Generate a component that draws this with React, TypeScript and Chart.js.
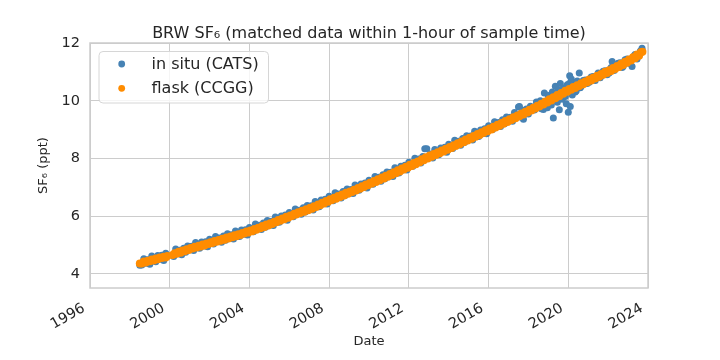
import React, { useEffect, useRef } from "react";
import { Chart, registerables } from "chart.js";

Chart.register(...registerables);

const titleText = "BRW SF₆ (matched data within 1-hour of sample time)";
const xAxisLabel = "Date";
const yAxisLabel = "SF₆ (ppt)";
const seriesNames = ["in situ (CATS)", "flask (CCGG)"];
const xTickYears = [1996, 2000, 2004, 2008, 2012, 2016, 2020, 2024];
const yTickValues = [4, 6, 8, 10, 12];

const flaskDates = [
  1998.5, 1998.6, 1998.7, 1998.8, 1998.9, 1999.0, 1999.1, 1999.2, 1999.3, 1999.4,
  1999.5, 1999.6, 1999.7, 1999.8, 1999.88,
  2000.15, 2000.25, 2000.35, 2000.45, 2000.55, 2000.65, 2000.75, 2000.85, 2000.95,
  2001.05, 2001.15, 2001.25, 2001.35, 2001.45, 2001.55, 2001.65, 2001.75, 2001.85, 2001.95,
  2002.05, 2002.15, 2002.25, 2002.35, 2002.45, 2002.55, 2002.65, 2002.75, 2002.85, 2002.95,
  2003.05, 2003.15, 2003.25, 2003.35, 2003.45, 2003.55, 2003.65, 2003.75, 2003.85, 2003.95,
  2004.05, 2004.15, 2004.25, 2004.35, 2004.45, 2004.55, 2004.65, 2004.75, 2004.85, 2004.95,
  2005.05, 2005.15, 2005.25, 2005.35, 2005.45, 2005.55, 2005.65, 2005.75, 2005.85, 2005.95,
  2006.05, 2006.15, 2006.25, 2006.35, 2006.45, 2006.55, 2006.65, 2006.75, 2006.85, 2006.95,
  2007.05, 2007.15, 2007.25, 2007.35, 2007.45, 2007.55, 2007.65, 2007.75, 2007.85, 2007.95,
  2008.05, 2008.15, 2008.25, 2008.35, 2008.45, 2008.55, 2008.65, 2008.75, 2008.85, 2008.95,
  2009.05, 2009.15, 2009.25, 2009.35, 2009.45, 2009.55, 2009.65, 2009.75, 2009.85, 2009.95,
  2010.05, 2010.15, 2010.25, 2010.35, 2010.45, 2010.55, 2010.65, 2010.75, 2010.85, 2010.95,
  2011.05, 2011.15, 2011.25, 2011.35, 2011.45, 2011.55, 2011.65, 2011.75, 2011.85, 2011.95,
  2012.05, 2012.15, 2012.25, 2012.35, 2012.45, 2012.55, 2012.65, 2012.75, 2012.85, 2012.95,
  2013.05, 2013.15, 2013.25, 2013.35, 2013.45, 2013.55, 2013.65, 2013.75, 2013.85, 2013.95,
  2014.05, 2014.15, 2014.25, 2014.35, 2014.45, 2014.55, 2014.65, 2014.75, 2014.85, 2014.95,
  2015.05, 2015.15, 2015.25, 2015.35, 2015.45, 2015.55, 2015.65, 2015.75, 2015.85, 2015.95,
  2016.05, 2016.15, 2016.25, 2016.35, 2016.45, 2016.55, 2016.65, 2016.75, 2016.85, 2016.95,
  2017.05, 2017.15, 2017.25, 2017.35, 2017.45, 2017.55, 2017.65, 2017.75, 2017.85, 2017.95,
  2018.05, 2018.15, 2018.25, 2018.35, 2018.45, 2018.55, 2018.65, 2018.75, 2018.85, 2018.95,
  2019.05, 2019.15, 2019.25, 2019.35, 2019.45, 2019.55, 2019.65, 2019.75, 2019.85, 2019.95,
  2020.05, 2020.15, 2020.25, 2020.35, 2020.45, 2020.55, 2020.65, 2020.75, 2020.85, 2020.95,
  2021.05, 2021.15, 2021.25, 2021.35, 2021.45, 2021.55, 2021.65, 2021.75, 2021.85, 2021.95,
  2022.05, 2022.15, 2022.25, 2022.35, 2022.45, 2022.55, 2022.65, 2022.75, 2022.85, 2022.95,
  2023.05, 2023.15, 2023.25, 2023.35, 2023.45, 2023.55, 2023.65, 2023.72,
];
const flaskValues = [
  4.36, 4.36, 4.43, 4.4, 4.46, 4.44, 4.5, 4.47, 4.54, 4.51,
  4.57, 4.55, 4.6, 4.57, 4.62,
  4.66, 4.72, 4.7, 4.77, 4.74, 4.81, 4.79, 4.86, 4.83,
  4.9, 4.88, 4.94, 4.92, 4.98, 4.95, 5.02, 4.99, 5.06, 5.04,
  5.1, 5.07, 5.14, 5.12, 5.18, 5.15, 5.22, 5.19, 5.26, 5.23,
  5.3, 5.27, 5.34, 5.31, 5.38, 5.35, 5.42, 5.4, 5.47, 5.44,
  5.51, 5.48, 5.56, 5.53, 5.6, 5.58, 5.66, 5.63, 5.71, 5.68,
  5.76, 5.73, 5.81, 5.79, 5.87, 5.84, 5.92, 5.9, 5.98, 5.95,
  6.03, 6.01, 6.09, 6.06, 6.14, 6.11, 6.19, 6.16, 6.24, 6.21,
  6.29, 6.26, 6.35, 6.32, 6.41, 6.38, 6.47, 6.44, 6.53, 6.5,
  6.59, 6.56, 6.64, 6.61, 6.7, 6.67, 6.75, 6.72, 6.81, 6.78,
  6.86, 6.84, 6.92, 6.89, 6.98, 6.95, 7.04, 7.01, 7.1, 7.07,
  7.16, 7.13, 7.22, 7.19, 7.28, 7.25, 7.34, 7.31, 7.4, 7.37,
  7.46, 7.43, 7.52, 7.49, 7.59, 7.55, 7.65, 7.62, 7.71, 7.68,
  7.78, 7.74, 7.84, 7.8, 7.9, 7.87, 7.97, 7.94, 8.04, 8.0,
  8.1, 8.06, 8.16, 8.12, 8.22, 8.18, 8.28, 8.24, 8.34, 8.3,
  8.4, 8.36, 8.46, 8.43, 8.53, 8.49, 8.59, 8.56, 8.66, 8.62,
  8.72, 8.68, 8.78, 8.75, 8.85, 8.81, 8.91, 8.88, 8.98, 8.94,
  9.04, 9.0, 9.1, 9.07, 9.17, 9.13, 9.23, 9.2, 9.3, 9.26,
  9.36, 9.33, 9.43, 9.39, 9.49, 9.46, 9.56, 9.52, 9.62, 9.59,
  9.69, 9.66, 9.76, 9.73, 9.83, 9.8, 9.9, 9.87, 9.97, 9.94,
  10.05, 10.01, 10.12, 10.09, 10.2, 10.16, 10.27, 10.24, 10.35, 10.31,
  10.41, 10.38, 10.48, 10.44, 10.54, 10.51, 10.61, 10.57, 10.67, 10.64,
  10.74, 10.7, 10.8, 10.77, 10.87, 10.83, 10.93, 10.9, 11.0, 10.96,
  11.06, 11.03, 11.13, 11.1, 11.2, 11.17, 11.28, 11.24, 11.35, 11.32,
  11.43, 11.39, 11.51, 11.47, 11.6, 11.56, 11.68, 11.7,
];

const catsDates = [
  1998.5, 1998.6, 1998.7, 1998.8, 1998.9, 1999.0, 1999.1, 1999.2, 1999.3, 1999.4,
  1999.5, 1999.6, 1999.7, 1999.8, 1999.88,
  2000.2, 2000.3, 2000.4, 2000.5, 2000.6, 2000.7, 2000.8, 2000.9,
  2001.0, 2001.1, 2001.2, 2001.3, 2001.4, 2001.5, 2001.6, 2001.7, 2001.8, 2001.9,
  2002.0, 2002.1, 2002.2, 2002.3, 2002.4, 2002.5, 2002.6, 2002.7, 2002.8, 2002.9,
  2003.0, 2003.1, 2003.2, 2003.3, 2003.4, 2003.5, 2003.6, 2003.7, 2003.8, 2003.9,
  2004.0, 2004.1, 2004.2, 2004.3, 2004.4, 2004.5, 2004.6, 2004.7, 2004.8, 2004.9,
  2005.0, 2005.1, 2005.2, 2005.3, 2005.4, 2005.5, 2005.6, 2005.7, 2005.8, 2005.9,
  2006.0, 2006.1, 2006.2, 2006.3, 2006.4, 2006.5, 2006.6, 2006.7, 2006.8, 2006.9,
  2007.0, 2007.1, 2007.2, 2007.3, 2007.4, 2007.5, 2007.6, 2007.7, 2007.8, 2007.9,
  2008.0, 2008.1, 2008.2, 2008.3, 2008.4, 2008.5, 2008.6, 2008.7, 2008.8, 2008.9,
  2009.0, 2009.1, 2009.2, 2009.3, 2009.4, 2009.5, 2009.6, 2009.7, 2009.8, 2009.9,
  2010.0, 2010.1, 2010.2, 2010.3, 2010.4, 2010.5, 2010.6, 2010.7, 2010.8, 2010.9,
  2011.0, 2011.1, 2011.2, 2011.3, 2011.4, 2011.5, 2011.6, 2011.7, 2011.8, 2011.9,
  2012.0, 2012.1, 2012.2, 2012.3, 2012.4, 2012.5, 2012.6, 2012.7, 2012.8, 2012.9,
  2013.0, 2013.1, 2013.2, 2013.3, 2013.4, 2013.5, 2013.6, 2013.7, 2013.8, 2013.9,
  2014.0, 2014.1, 2014.2, 2014.3, 2014.4, 2014.5, 2014.6, 2014.7, 2014.8, 2014.9,
  2015.0, 2015.1, 2015.2, 2015.3, 2015.4, 2015.5, 2015.6, 2015.7, 2015.8, 2015.9,
  2016.0, 2016.1, 2016.2, 2016.3, 2016.4, 2016.5, 2016.6, 2016.7, 2016.8, 2016.9,
  2017.0, 2017.1, 2017.2, 2017.3, 2017.4, 2017.5, 2017.55, 2017.6, 2017.7, 2017.75,
  2017.8, 2017.9, 2018.0, 2018.1, 2018.2, 2018.3, 2018.4, 2018.5,
  2018.6, 2018.65, 2018.75, 2018.8, 2018.9, 2018.95, 2019.0, 2019.05, 2019.1, 2019.15,
  2019.2, 2019.25, 2019.3, 2019.35, 2019.4, 2019.45, 2019.5, 2019.55, 2019.6, 2019.65,
  2019.7, 2019.75, 2019.8, 2019.85, 2019.9, 2019.95, 2020.0, 2020.05, 2020.07, 2020.1,
  2020.12, 2020.15, 2020.2, 2020.25, 2020.3, 2020.35, 2020.4, 2020.45, 2020.55, 2020.6,
  2020.65, 2020.75, 2020.85, 2020.95, 2021.05, 2021.15, 2021.25, 2021.35, 2021.5, 2021.6,
  2021.65, 2021.75, 2021.85, 2021.95, 2022.05, 2022.15, 2022.2, 2022.3, 2022.4, 2022.5,
  2022.6, 2022.7, 2022.75, 2022.85, 2022.95, 2023.05, 2023.2, 2023.3, 2023.35, 2023.45,
  2023.55, 2023.62, 2023.7,
];
const catsValues = [
  4.3, 4.31, 4.53, 4.37, 4.49, 4.34, 4.62, 4.51, 4.42, 4.64,
  4.51, 4.65, 4.47, 4.72, 4.64,
  4.61, 4.87, 4.7, 4.82, 4.67, 4.89, 4.75, 4.97,
  4.84, 4.96, 4.81, 5.09, 4.98, 4.89, 5.11, 4.97, 5.12, 4.94,
  5.2, 5.13, 5.04, 5.3, 5.13, 5.25, 5.1, 5.32, 5.17, 5.39,
  5.24, 5.36, 5.21, 5.49, 5.38, 5.3, 5.52, 5.38, 5.53, 5.35,
  5.61, 5.55, 5.46, 5.73, 5.56, 5.69, 5.54, 5.77, 5.62, 5.85,
  5.7, 5.83, 5.68, 5.97, 5.87, 5.79, 6.01, 5.88, 6.04, 5.86,
  6.13, 6.07, 5.98, 6.25, 6.08, 6.21, 6.07, 6.29, 6.15, 6.37,
  6.23, 6.36, 6.22, 6.51, 6.41, 6.33, 6.56, 6.43, 6.59, 6.42,
  6.69, 6.63, 6.54, 6.81, 6.65, 6.77, 6.63, 6.86, 6.72, 6.94,
  6.8, 6.93, 6.79, 7.08, 6.98, 6.9, 7.12, 6.99, 7.15, 6.98,
  7.25, 7.19, 7.11, 7.38, 7.22, 7.35, 7.21, 7.44, 7.3, 7.53,
  7.39, 7.52, 7.38, 7.68, 7.58, 7.5, 7.73, 7.6, 7.77, 7.6,
  7.87, 7.81, 7.73, 8.01, 7.85, 7.98, 7.84, 8.07, 8.34, 8.34,
  8.03, 8.16, 8.02, 8.31, 8.21, 8.13, 8.36, 8.23, 8.39, 8.22,
  8.49, 8.43, 8.35, 8.63, 8.47, 8.6, 8.46, 8.69, 8.56, 8.79,
  8.65, 8.78, 8.64, 8.94, 8.84, 8.76, 8.99, 8.86, 9.03, 8.86,
  9.13, 9.07, 9.0, 9.27, 9.11, 9.25, 9.11, 9.34, 9.2, 9.44,
  9.3, 9.43, 9.29, 9.59, 9.49, 9.78, 9.8, 9.44, 9.67, 9.36,
  9.54, 9.71, 9.54, 9.81, 9.76, 9.68, 9.96, 9.8,
  10.0, 9.72, 9.7, 10.27, 9.98, 9.76, 10.18, 10.1, 9.88, 9.85,
  10.3, 9.4, 10.15, 10.5, 10.0, 9.95, 10.38, 9.69, 10.6, 10.1,
  10.05, 10.4, 10.45, 10.15, 9.9, 10.55, 9.6, 10.6, 10.87, 9.8,
  10.45, 10.75, 10.2, 10.6, 10.62, 10.3, 10.35, 10.68, 10.96, 10.45,
  10.5, 10.7, 10.72, 10.6, 10.64, 10.82, 10.84, 10.7, 10.96, 10.8,
  10.86, 11.02, 11.04, 10.9, 10.96, 11.15, 11.36, 11.05, 11.2, 11.3,
  11.32, 11.15, 11.19, 11.42, 11.45, 11.3, 11.19, 11.55, 11.6, 11.45,
  11.58, 11.72, 11.82,
];

const TEXT = "#262626";
const GRID = "#cccccc";
const FONT = "'DejaVu Sans', sans-serif";
const BLUE = "#4682b4";
const ORANGE = "#ff8c00";

const decorPlugin = {
  id: "decor",
  beforeDatasetsDraw(chart: any) {
    const { ctx, chartArea: a } = chart;
    ctx.save();
    ctx.strokeStyle = GRID;
    ctx.lineWidth = 1.5;
    ctx.strokeRect(a.left, a.top, a.right - a.left, a.bottom - a.top);
    ctx.restore();
  },
  afterDraw(chart: any) {
    const { ctx, chartArea: a } = chart;
    const xs = chart.scales.x;
    ctx.save();
    ctx.fillStyle = TEXT;
    ctx.font = `16px ${FONT}`;
    ctx.textAlign = "center";
    ctx.textBaseline = "alphabetic";
    ctx.fillText(titleText, (a.left + a.right) / 2, 37.5);
    ctx.font = `14.5px ${FONT}`;
    for (const yr of xTickYears) {
      const px = xs.getPixelForValue(yr);
      ctx.save();
      ctx.translate(px - 4.3, a.bottom + 22.6);
      ctx.rotate(-Math.PI / 6);
      ctx.textAlign = "right";
      ctx.textBaseline = "alphabetic";
      ctx.fillText(String(yr), 0, 0);
      ctx.restore();
    }
    const bx = a.left + 9, by = a.top + 8.5, bw = 169.5, bh = 51.5, r = 4;
    ctx.beginPath();
    ctx.moveTo(bx + r, by);
    ctx.arcTo(bx + bw, by, bx + bw, by + bh, r);
    ctx.arcTo(bx + bw, by + bh, bx, by + bh, r);
    ctx.arcTo(bx, by + bh, bx, by, r);
    ctx.arcTo(bx, by, bx + bw, by, r);
    ctx.closePath();
    ctx.fillStyle = "rgba(255,255,255,0.8)";
    ctx.fill();
    ctx.strokeStyle = "#d6d6d6";
    ctx.lineWidth = 1;
    ctx.stroke();
    const colors = [BLUE, ORANGE];
    ctx.font = `16px ${FONT}`;
    ctx.textAlign = "left";
    ctx.textBaseline = "middle";
    seriesNames.forEach((name, i) => {
      const cy = by + 12.5 + i * 24.3;
      ctx.beginPath();
      ctx.arc(bx + 22.7, cy, 3.4, 0, Math.PI * 2);
      ctx.fillStyle = colors[i];
      ctx.fill();
      ctx.fillStyle = TEXT;
      ctx.fillText(name, bx + 52.5, cy + 0.5);
    });
    ctx.restore();
  },
};

export default function App() {
  const canvasRef = useRef<HTMLCanvasElement | null>(null);

  useEffect(() => {
    document.body.style.margin = "0";
    const canvas = canvasRef.current;
    if (!canvas) return;
    const chart = new Chart(canvas, {
      type: "scatter",
      data: {
        datasets: [
          {
            label: seriesNames[0],
            data: catsDates.map((d, i) => ({ x: d, y: catsValues[i] })),
            backgroundColor: BLUE,
            borderWidth: 0,
            pointRadius: 3.5,
            order: 1,
          },
          {
            label: seriesNames[1],
            data: flaskDates.map((d, i) => ({ x: d, y: flaskValues[i] })),
            backgroundColor: ORANGE,
            borderWidth: 0,
            pointRadius: 4,
            order: 0,
          },
        ],
      },
      options: {
        animation: false,
        responsive: false,
        devicePixelRatio: 1,
        events: [],
        layout: { padding: { top: 43, right: 72, bottom: 0, left: 0 } },
        plugins: {
          legend: { display: false },
          tooltip: { enabled: false },
          title: { display: false },
        },
        scales: {
          x: {
            type: "linear",
            min: 1996,
            max: 2024,
            afterBuildTicks: (s: any) => {
              s.ticks = xTickYears.map((v) => ({ value: v }));
            },
            afterFit: (s: any) => {
              s.height = 72;
            },
            grid: { color: GRID, lineWidth: 1, drawTicks: false },
            border: { display: false },
            ticks: { display: false },
            title: {
              display: true,
              text: xAxisLabel,
              color: TEXT,
              font: { family: FONT, size: 13 },
              padding: { top: 0, bottom: 10.5 },
            },
          },
          y: {
            type: "linear",
            min: 3.515,
            max: 12,
            afterBuildTicks: (s: any) => {
              s.ticks = yTickValues.map((v) => ({ value: v }));
            },
            afterFit: (s: any) => {
              s.width = 90;
            },
            grid: { color: GRID, lineWidth: 1, drawTicks: false },
            border: { display: false },
            ticks: {
              color: TEXT,
              font: { family: FONT, size: 14.5 },
              padding: 10,
              callback: (v: any) => String(v),
            },
            title: {
              display: true,
              text: yAxisLabel,
              color: TEXT,
              font: { family: FONT, size: 13 },
              padding: { top: 36, bottom: 0 },
            },
          },
        },
      },
      plugins: [decorPlugin],
    });
    return () => chart.destroy();
  }, []);

  return (
    <div style={{ width: 720, height: 360 }}>
      <canvas ref={canvasRef} width={720} height={360} style={{ display: "block" }} />
    </div>
  );
}
